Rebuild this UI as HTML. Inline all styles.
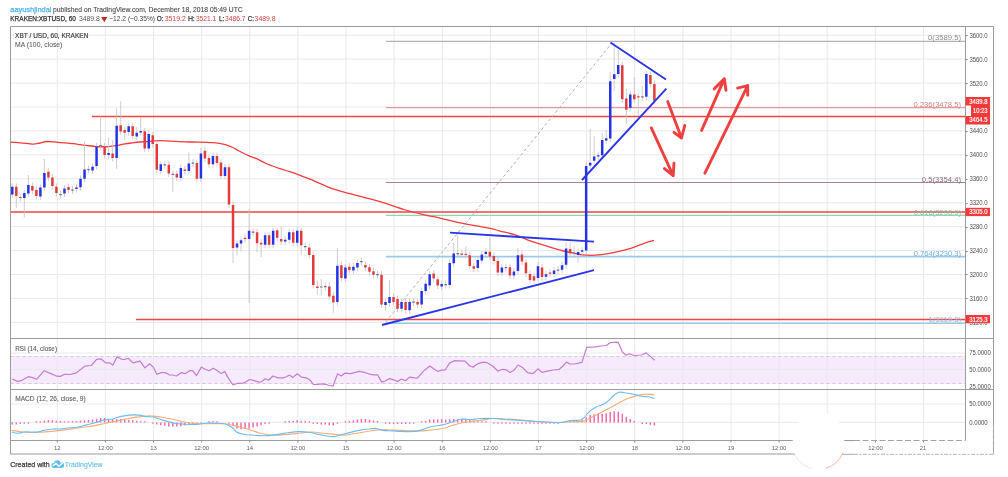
<!DOCTYPE html>
<html><head><meta charset="utf-8"><title>XBTUSD chart</title>
<style>html,body{margin:0;padding:0;background:#fff;}body{width:1008px;height:477px;overflow:hidden;position:relative;}</style>
</head><body>
<svg width="1008" height="477" viewBox="0 0 1008 477" style="position:absolute;left:0;top:0;filter:blur(0.3px)"><defs><clipPath id="cm"><rect x="10.5" y="26.5" width="955.0" height="312.0"/></clipPath><clipPath id="cr"><rect x="10.5" y="338.5" width="955.0" height="51.0"/></clipPath><clipPath id="cd"><rect x="10.5" y="389.5" width="955.0" height="51.0"/></clipPath></defs><rect x="10.5" y="356" width="955.0" height="28" fill="#f5ebfd"/><path d="M57.3 26.5V440.5 M105.4 26.5V440.5 M153.5 26.5V440.5 M201.7 26.5V440.5 M249.8 26.5V440.5 M297.9 26.5V440.5 M346.0 26.5V440.5 M394.1 26.5V440.5 M442.3 26.5V440.5 M490.4 26.5V440.5 M538.5 26.5V440.5 M586.6 26.5V440.5 M634.7 26.5V440.5 M682.9 26.5V440.5 M731.0 26.5V440.5 M779.1 26.5V440.5 M827.2 26.5V440.5 M875.3 26.5V440.5 M923.5 26.5V440.5 M10.5 35.2H965.5 M10.5 59.1H965.5 M10.5 83.1H965.5 M10.5 107.0H965.5 M10.5 130.9H965.5 M10.5 154.8H965.5 M10.5 178.8H965.5 M10.5 202.7H965.5 M10.5 226.6H965.5 M10.5 250.6H965.5 M10.5 274.5H965.5 M10.5 298.4H965.5 M10.5 322.3H965.5 M10.5 353.1H965.5 M10.5 369.5H965.5 M10.5 404H965.5 M10.5 422.3H965.5" stroke="#e9e9e9" stroke-width="1" fill="none"/><path d="M10.5 356.5H965.5M10.5 383.5H965.5" stroke="#d3c8d8" stroke-width="1" stroke-dasharray="3,3" fill="none"/><g clip-path="url(#cm)"><path d="M386 41.3H965.5" stroke="#b4b4b4" stroke-width="1.2"/><path d="M386 107.6H965.5" stroke="#e39a9a" stroke-width="1.2"/><path d="M386 182.5H965.5" stroke="#a67f98" stroke-width="1.2"/><path d="M386 215.4H965.5" stroke="#8fd6b4" stroke-width="1.2"/><path d="M386 256.6H965.5" stroke="#9ccbe8" stroke-width="1.6"/><path d="M386 323.2H965.5" stroke="#9ccbe8" stroke-width="1.6"/><path d="M92 116.4H965.5M10.5 212H965.5M136 319.5H965.5" stroke="#f04545" stroke-width="1.5" fill="none"/><path d="M385.6 322L611.3 43.8" stroke="#b0b0b0" stroke-width="1" stroke-dasharray="3,2.5" fill="none"/><path d="M10.0 142.1C11.8 142.2 16.7 142.5 20.6 142.8C24.5 143.1 30.0 144.1 33.2 144.1C36.4 144.1 37.7 143.4 40.0 143.0C42.3 142.6 44.0 141.6 47.0 141.5C50.0 141.4 53.9 142.0 58.3 142.3C62.7 142.7 69.8 143.2 73.4 143.6C77.0 144.0 77.9 144.4 80.0 144.7C82.1 145.0 83.3 145.0 86.0 145.3C88.7 145.6 92.6 146.4 96.4 146.6C100.2 146.8 105.0 146.8 108.6 146.6C112.1 146.4 115.0 145.8 117.7 145.3C120.4 144.8 122.5 144.2 125.0 143.8C127.5 143.4 129.4 143.2 132.8 142.8C136.2 142.4 140.9 142.0 145.4 141.6C149.9 141.2 153.3 140.6 160.0 140.6C166.7 140.6 179.1 141.6 185.4 141.8C191.7 142.1 193.4 141.9 198.0 142.1C202.6 142.2 209.0 142.4 213.0 142.7C217.0 143.0 219.3 143.3 222.0 143.8C224.7 144.3 226.8 145.0 229.0 145.8C231.2 146.6 233.0 147.6 235.0 148.6C237.0 149.6 238.5 150.7 241.0 152.0C243.5 153.3 247.4 155.2 250.2 156.4C253.0 157.6 254.9 157.9 257.7 159.2C260.5 160.5 262.8 162.2 267.2 164.0C271.6 165.8 279.2 168.3 284.2 170.0C289.2 171.7 293.0 172.7 297.4 174.3C301.8 175.9 304.6 177.0 310.6 179.4C316.6 181.8 326.3 186.4 333.2 188.9C340.1 191.4 344.3 192.1 352.1 194.2C359.9 196.3 371.1 199.1 380.0 201.7C388.9 204.3 397.9 207.8 405.5 210.0C413.1 212.2 419.9 213.8 425.6 215.1C431.4 216.4 433.4 216.6 440.0 218.1C446.6 219.6 456.6 222.1 465.0 223.8C473.4 225.5 484.5 227.2 490.3 228.4C496.1 229.6 495.7 230.0 500.0 231.1C504.3 232.2 510.6 233.4 515.9 235.1C521.2 236.8 526.4 239.5 531.7 241.4C537.0 243.3 542.3 244.8 547.6 246.4C552.9 248.0 559.0 249.8 563.5 251.0C568.0 252.2 571.4 252.7 574.6 253.3C577.8 254.0 579.1 254.6 582.5 254.9C585.9 255.2 591.0 255.4 595.2 255.2C599.5 255.0 602.7 254.7 608.0 253.7C613.3 252.7 621.2 251.1 627.0 249.4C632.8 247.8 638.4 245.3 642.9 243.8C647.4 242.3 652.1 240.9 654.0 240.3" fill="none" stroke="#f03c3c" stroke-width="1.3" stroke-linejoin="round"/><path d="M12.3 183.3V197.9 M16.3 183.3V208.0 M20.3 193.4V201.6 M24.3 189.6V217.5 M28.4 175.0V197.1 M32.4 182.5V194.1 M36.4 186.5V199.5 M40.4 184.1V200.1 M44.4 159.0V191.1 M48.4 168.2V181.0 M52.4 174.0V189.5 M56.4 183.3V196.6 M60.5 190.5V198.5 M64.5 185.1V197.1 M68.5 183.5V193.5 M72.5 186.0V194.0 M76.5 184.1V192.5 M80.5 175.3V190.8 M84.5 141.5V182.3 M88.5 165.5V173.5 M92.6 163.2V174.0 M96.6 143.1V169.5 M100.6 116.4V149.5 M104.6 143.1V158.5 M108.6 137.8V158.5 M112.6 140.3V161.4 M116.6 108.2V169.0 M120.7 101.3V135.0 M124.7 126.5V139.7 M128.7 124.0V135.6 M132.7 122.7V139.4 M136.7 127.0V140.0 M140.7 117.0V136.0 M144.7 127.8V152.0 M148.7 130.5V152.0 M152.8 131.8V147.6 M156.8 140.6V173.2 M160.8 160.7V174.5 M164.8 160.7V168.7 M168.8 161.2V177.0 M172.8 170.2V191.9 M176.8 170.2V181.0 M180.8 164.5V181.5 M184.9 166.0V174.5 M188.9 152.4V174.5 M192.9 159.0V167.0 M196.9 159.5V182.3 M200.9 147.8V182.0 M204.9 147.3V161.9 M208.9 154.4V167.7 M213.0 152.5V167.7 M217.0 152.5V166.5 M221.0 158.9V179.5 M225.0 163.7V179.5 M229.0 163.7V207.9 M233.0 201.5V263.0 M237.0 240.1V255.4 M241.0 236.8V251.6 M245.1 234.3V242.5 M249.1 209.0V303.0 M253.1 228.0V236.3 M257.1 228.8V252.4 M261.1 239.3V257.0 M265.1 231.8V248.3 M269.1 231.8V248.3 M273.1 227.3V248.3 M277.2 227.7V241.3 M281.2 226.5V245.1 M285.2 236.3V245.1 M289.2 228.8V243.3 M293.2 228.8V246.3 M297.2 227.3V246.3 M301.2 227.3V255.4 M305.2 242.5V250.5 M309.3 243.9V258.4 M313.3 251.4V288.6 M317.3 280.6V294.4 M321.3 279.0V295.6 M325.3 282.5V290.5 M329.3 281.8V299.9 M333.3 292.2V313.0 M337.4 247.8V305.5 M341.4 261.7V281.5 M345.4 263.9V282.0 M349.4 263.2V273.5 M353.4 263.2V273.9 M357.4 259.4V270.9 M361.4 257.5V265.5 M365.4 261.4V270.9 M369.5 263.7V275.2 M373.5 267.7V278.2 M377.5 270.5V278.5 M381.5 271.2V307.9 M385.5 298.4V310.7 M389.5 280.0V306.6 M393.5 293.4V305.4 M397.5 295.4V312.2 M401.6 298.4V312.2 M405.6 298.4V313.4 M409.6 298.4V313.7 M413.6 298.0V306.0 M417.6 298.4V307.9 M421.6 287.5V307.9 M425.6 280.3V294.5 M429.7 270.7V289.0 M433.7 270.0V282.0 M437.7 275.7V289.0 M441.7 280.5V290.0 M445.7 280.5V288.5 M449.7 259.4V288.5 M453.7 242.8V266.7 M457.7 235.2V257.5 M461.8 250.0V258.0 M465.8 246.5V258.3 M469.8 251.8V269.4 M473.8 262.7V272.2 M477.8 256.4V271.4 M481.8 251.1V263.9 M485.8 248.3V257.6 M489.8 237.7V260.1 M493.9 252.6V264.6 M497.9 257.6V276.0 M501.9 263.9V276.0 M505.9 263.5V271.5 M509.9 263.7V279.1 M513.9 268.1V279.1 M517.9 247.8V274.6 M522.0 251.1V265.1 M526.0 259.0V276.7 M530.0 270.5V283.5 M534.0 272.8V284.0 M538.0 262.0V281.4 M542.0 264.1V280.6 M546.0 270.8V280.3 M550.0 268.9V277.2 M554.1 267.0V277.5 M558.1 266.0V274.0 M562.1 261.7V273.2 M566.1 242.2V268.3 M570.1 242.2V256.8 M574.1 246.0V258.0 M578.1 248.5V262.9 M582.1 247.0V255.2 M586.2 162.4V254.0 M590.2 128.8V169.0 M594.2 136.3V164.3 M598.2 151.7V159.9 M602.2 133.2V158.7 M606.2 130.0V143.9 M610.2 71.9V142.0 M614.2 43.0V90.8 M618.3 50.0V77.4 M622.3 61.8V102.7 M626.3 88.8V123.8 M630.3 90.9V111.3 M634.3 76.9V102.7 M638.3 92.7V115.5 M642.3 85.9V100.8 M646.4 70.9V100.3 M650.4 71.4V87.4 M654.4 80.4V104.3" stroke="#c2c2c2" stroke-width="0.8" fill="none"/><path d="M11.05 186.8h2.5v7.6h-2.5z M23.09 193.1h2.5v5.0h-2.5z M27.10 185.0h2.5v8.6h-2.5z M39.14 187.6h2.5v9.0h-2.5z M43.15 173.0h2.5v14.6h-2.5z M63.22 188.6h2.5v5.0h-2.5z M75.26 187.6h2.5v1.4h-2.5z M79.27 178.8h2.5v8.5h-2.5z M83.28 169.5h2.5v9.3h-2.5z M91.31 166.7h2.5v3.8h-2.5z M95.32 146.6h2.5v19.4h-2.5z M107.36 152.9h2.5v2.1h-2.5z M115.39 125.8h2.5v32.1h-2.5z M127.43 126.2h2.5v5.9h-2.5z M135.45 132.8h2.5v3.7h-2.5z M139.47 130.9h2.5v1.6h-2.5z M147.49 134.0h2.5v14.5h-2.5z M159.53 164.2h2.5v6.8h-2.5z M179.60 168.0h2.5v10.0h-2.5z M187.62 163.4h2.5v7.6h-2.5z M199.66 153.4h2.5v25.1h-2.5z M211.70 156.0h2.5v8.2h-2.5z M223.74 167.2h2.5v8.8h-2.5z M235.78 243.6h2.5v3.8h-2.5z M239.79 240.3h2.5v3.3h-2.5z M247.82 230.8h2.5v8.2h-2.5z M263.87 235.3h2.5v9.5h-2.5z M271.89 230.8h2.5v14.0h-2.5z M283.93 239.8h2.5v1.8h-2.5z M287.95 232.3h2.5v7.5h-2.5z M295.97 230.8h2.5v12.0h-2.5z M336.10 265.7h2.5v36.3h-2.5z M344.13 267.4h2.5v11.1h-2.5z M352.16 266.7h2.5v3.7h-2.5z M356.17 262.9h2.5v4.5h-2.5z M384.26 301.9h2.5v3.0h-2.5z M388.27 296.9h2.5v6.2h-2.5z M400.31 301.9h2.5v6.8h-2.5z M408.34 301.9h2.5v8.3h-2.5z M420.38 291.0h2.5v13.4h-2.5z M424.39 283.8h2.5v7.2h-2.5z M428.40 274.2h2.5v11.3h-2.5z M440.44 284.0h2.5v2.5h-2.5z M448.47 262.9h2.5v22.1h-2.5z M452.48 253.6h2.5v9.6h-2.5z M476.56 259.9h2.5v8.0h-2.5z M480.57 254.6h2.5v5.8h-2.5z M484.58 251.8h2.5v2.3h-2.5z M500.64 267.4h2.5v5.1h-2.5z M512.67 271.6h2.5v4.0h-2.5z M516.69 255.2h2.5v15.9h-2.5z M536.75 266.3h2.5v11.6h-2.5z M544.78 274.3h2.5v2.5h-2.5z M552.80 270.5h2.5v3.5h-2.5z M560.83 265.2h2.5v4.5h-2.5z M564.84 248.6h2.5v16.2h-2.5z M576.88 252.0h2.5v2.9h-2.5z M580.90 250.2h2.5v1.5h-2.5z M584.91 165.9h2.5v84.6h-2.5z M588.92 162.7h2.5v2.8h-2.5z M592.93 156.4h2.5v4.4h-2.5z M596.95 155.2h2.5v1.2h-2.5z M600.96 140.1h2.5v15.1h-2.5z M604.97 138.2h2.5v2.2h-2.5z M608.99 81.3h2.5v57.2h-2.5z M613.00 74.3h2.5v4.6h-2.5z M617.01 64.9h2.5v9.0h-2.5z M629.05 94.4h2.5v13.4h-2.5z M645.10 73.9h2.5v22.9h-2.5z" fill="#2632e6"/><path d="M15.06 186.8h2.5v9.3h-2.5z M19.08 196.9h2.5v1.2h-2.5z M31.11 186.0h2.5v4.6h-2.5z M35.13 190.0h2.5v6.0h-2.5z M47.17 171.7h2.5v5.8h-2.5z M51.18 177.5h2.5v8.5h-2.5z M55.19 186.8h2.5v6.3h-2.5z M67.23 187.0h2.5v3.0h-2.5z M103.35 146.6h2.5v8.4h-2.5z M111.38 153.4h2.5v4.5h-2.5z M119.40 125.2h2.5v6.3h-2.5z M123.41 130.0h2.5v2.8h-2.5z M131.44 126.2h2.5v9.7h-2.5z M143.48 131.3h2.5v17.2h-2.5z M151.50 135.3h2.5v8.8h-2.5z M155.52 144.1h2.5v25.6h-2.5z M167.56 164.7h2.5v8.8h-2.5z M175.58 173.7h2.5v3.8h-2.5z M183.61 169.5h2.5v1.5h-2.5z M195.65 163.0h2.5v15.8h-2.5z M203.67 150.8h2.5v7.6h-2.5z M207.69 157.9h2.5v6.3h-2.5z M215.71 156.0h2.5v7.0h-2.5z M219.73 162.4h2.5v13.6h-2.5z M227.75 167.2h2.5v37.2h-2.5z M231.77 205.0h2.5v42.9h-2.5z M243.80 237.8h2.5v1.2h-2.5z M251.83 231.5h2.5v1.3h-2.5z M255.84 232.3h2.5v11.0h-2.5z M259.86 242.8h2.5v1.8h-2.5z M267.88 235.3h2.5v9.5h-2.5z M275.91 230.3h2.5v7.5h-2.5z M279.92 239.0h2.5v2.6h-2.5z M291.96 232.3h2.5v10.5h-2.5z M299.99 230.8h2.5v14.5h-2.5z M308.01 247.4h2.5v7.5h-2.5z M312.02 254.9h2.5v30.2h-2.5z M316.04 286.4h2.5v1.7h-2.5z M328.08 286.4h2.5v10.0h-2.5z M332.09 295.7h2.5v6.8h-2.5z M340.12 265.2h2.5v12.8h-2.5z M348.14 266.7h2.5v3.3h-2.5z M364.19 264.9h2.5v2.5h-2.5z M368.21 267.2h2.5v4.5h-2.5z M372.22 271.2h2.5v3.5h-2.5z M380.25 274.7h2.5v29.7h-2.5z M392.29 296.9h2.5v5.0h-2.5z M396.30 298.9h2.5v9.8h-2.5z M404.32 301.9h2.5v8.0h-2.5z M416.36 301.9h2.5v2.5h-2.5z M432.42 273.5h2.5v5.0h-2.5z M436.43 279.2h2.5v6.3h-2.5z M460.51 253.5h2.5v1.2h-2.5z M464.52 253.8h2.5v1.2h-2.5z M468.53 255.3h2.5v10.6h-2.5z M472.55 266.2h2.5v2.5h-2.5z M488.60 251.8h2.5v4.8h-2.5z M492.61 256.1h2.5v5.0h-2.5z M496.62 261.1h2.5v11.4h-2.5z M508.66 267.2h2.5v8.4h-2.5z M520.70 254.6h2.5v7.0h-2.5z M524.71 262.5h2.5v10.7h-2.5z M528.73 274.0h2.5v6.0h-2.5z M532.74 276.3h2.5v4.2h-2.5z M540.77 267.6h2.5v9.5h-2.5z M548.79 272.4h2.5v1.3h-2.5z M568.86 249.0h2.5v4.3h-2.5z M621.03 65.3h2.5v33.9h-2.5z M625.04 98.4h2.5v11.4h-2.5z M633.06 94.4h2.5v4.8h-2.5z M637.08 96.2h2.5v1.2h-2.5z M649.12 74.9h2.5v9.0h-2.5z M653.13 83.9h2.5v16.9h-2.5z" fill="#e23b3b"/><path d="M59.21 194.0h2.5v1.2h-2.5z M71.25 189.5h2.5v1.2h-2.5z M87.30 169.0h2.5v1.2h-2.5z M99.34 145.0h2.5v1.2h-2.5z M163.54 164.2h2.5v1.2h-2.5z M171.57 173.7h2.5v1.2h-2.5z M191.64 162.5h2.5v1.2h-2.5z M304.00 246.0h2.5v1.2h-2.5z M320.05 286.4h2.5v1.2h-2.5z M324.06 286.0h2.5v1.2h-2.5z M360.18 261.0h2.5v1.2h-2.5z M376.23 274.0h2.5v1.2h-2.5z M412.35 301.5h2.5v1.2h-2.5z M444.45 284.0h2.5v1.2h-2.5z M456.49 253.0h2.5v1.2h-2.5z M504.65 267.0h2.5v1.2h-2.5z M556.82 269.5h2.5v1.2h-2.5z M572.87 252.5h2.5v1.2h-2.5z M641.09 96.3h2.5v1.2h-2.5z" fill="#6a6a9a"/><path d="M382 325L594 270.2M450 232.7L594 241.7M582 180L666.4 88.6M610.4 42.4L666 79.5" stroke="#2a35e8" stroke-width="1.85" fill="none" stroke-linecap="butt"/><text x="928.1" y="40.4" textLength="32.9" lengthAdjust="spacingAndGlyphs" font-family="'Liberation Sans', Arial, sans-serif" font-size="7.5" fill="#8a8a8a">0(3589.5)</text><text x="913.5" y="106.7" textLength="47.5" lengthAdjust="spacingAndGlyphs" font-family="'Liberation Sans', Arial, sans-serif" font-size="7.5" fill="#d97f7f">0.236(3478.5)</text><text x="921.8" y="181.6" textLength="39.2" lengthAdjust="spacingAndGlyphs" font-family="'Liberation Sans', Arial, sans-serif" font-size="7.5" fill="#8c6a82">0.5(3354.4)</text><text x="913.7" y="214.5" textLength="47.3" lengthAdjust="spacingAndGlyphs" font-family="'Liberation Sans', Arial, sans-serif" font-size="7.5" fill="#74c9a2">0.618(3298.9)</text><text x="913.7" y="255.7" textLength="47.3" lengthAdjust="spacingAndGlyphs" font-family="'Liberation Sans', Arial, sans-serif" font-size="7.5" fill="#6cb2de">0.764(3230.3)</text><text x="928.6" y="322.3" textLength="32.4" lengthAdjust="spacingAndGlyphs" font-family="'Liberation Sans', Arial, sans-serif" font-size="7.5" fill="#86bde2">1(3119.3)</text></g><path d="M667.7 101.5L681.5 138M674 132.4L681.5 138L684.8 125.4 M651.3 127.9L673.2 175.7M664.4 168.6L673.2 175.7L674 163.1 M701.6 130.4L724.3 78.8M714.2 88.9L724.3 78.8L726 90.2 M704.9 173.2L747.7 85.6M737.6 88.1L747.7 85.6L747.7 95.2" stroke="#ef4040" stroke-width="2.9" fill="none" stroke-linecap="round" stroke-linejoin="round"/><g clip-path="url(#cr)"><polyline points="12.3,379.0 17.5,381.4 21.1,380.7 28.2,376.7 31.8,377.4 36.6,379.3 44.2,370.7 50.9,373.6 56.8,376.2 60.4,376.4 64.7,374.3 69.9,374.5 75.9,373.1 84.7,366.2 91.3,365.5 96.6,359.3 100.9,358.8 105.6,362.9 109.9,362.9 112.8,365.2 117.0,356.9 121.8,359.3 124.7,359.5 128.2,358.3 133.0,362.9 137.8,361.7 140.1,361.2 144.9,367.9 149.7,363.8 153.2,367.1 156.8,374.3 161.6,372.6 165.1,372.6 169.4,374.8 172.3,375.0 176.6,376.0 181.3,372.6 185.4,373.6 190.1,370.5 192.5,370.7 196.6,375.5 201.3,367.1 205.6,369.5 209.2,370.7 213.2,368.3 217.5,370.7 221.1,373.6 224.7,371.4 228.2,377.9 233.0,385.0 237.8,383.3 242.5,383.1 244.8,382.6 249.5,379.5 254.3,380.7 259.0,382.1 261.4,381.9 265.0,378.8 268.6,380.2 272.9,376.0 278.1,377.9 282.9,377.9 286.4,376.7 289.5,375.0 292.9,377.4 297.1,373.8 301.4,377.1 306.7,377.9 310.2,380.2 313.3,384.3 317.4,384.5 322.1,383.8 325.7,384.3 329.3,385.5 332.9,386.2 337.6,373.8 341.2,376.0 345.2,373.1 350.7,373.6 354.3,372.6 359.0,371.4 362.6,371.9 368.6,373.8 373.3,374.8 377.6,374.8 381.7,382.1 385.2,381.0 389.5,378.6 393.6,379.8 397.6,381.4 401.4,379.0 405.5,380.7 409.5,377.1 415.0,377.9 417.4,378.1 423.3,371.4 429.8,366.0 434.0,369.0 438.1,371.4 441.2,370.2 445.2,370.0 449.5,363.1 454.3,360.7 465.0,361.2 469.8,366.0 473.8,367.1 472.9,367.1 478.3,363.6 483.1,362.1 486.7,362.6 492.6,366.0 498.1,371.2 502.1,369.3 506.2,369.8 510.0,372.6 514.0,370.2 518.1,365.0 522.4,367.4 527.6,372.6 533.1,373.6 537.9,368.8 541.9,372.4 547.4,371.2 553.3,370.0 559.3,369.3 562.9,366.0 566.4,362.1 570.0,364.0 574.8,364.0 581.9,362.4 586.7,347.4 595.0,346.9 601.0,346.0 606.2,345.5 610.5,342.6 618.1,342.1 622.4,352.1 626.0,355.2 629.5,353.8 633.8,355.5 641.4,355.0 646.2,352.9 651.0,356.9 654.5,360.2" fill="none" stroke="#c77ad6" stroke-width="1.2" stroke-linejoin="round"/></g><g clip-path="url(#cd)"><path d="M12.3 422.5v1.9 M16.3 422.5v1.9 M20.3 422.5v1.6 M24.3 422.5v1.3 M28.4 422.5v1.3 M36.4 422.5v-1.3 M40.4 422.5v-1.3 M44.4 422.5v-2.0 M48.4 422.5v-2.4 M52.4 422.5v-2.3 M56.4 422.5v-1.7 M60.5 422.5v-1.6 M64.5 422.5v-1.3 M68.5 422.5v-1.3 M72.5 422.5v-1.6 M76.5 422.5v-1.6 M80.5 422.5v-1.9 M84.5 422.5v-2.2 M88.5 422.5v-2.5 M92.6 422.5v-3.1 M96.6 422.5v-3.8 M100.6 422.5v-4.4 M104.6 422.5v-4.4 M108.6 422.5v-3.8 M112.6 422.5v-3.5 M116.6 422.5v-3.2 M120.7 422.5v-3.5 M124.7 422.5v-3.2 M128.7 422.5v-2.7 M132.7 422.5v-2.3 M136.7 422.5v-1.7 M140.7 422.5v-1.3 M144.7 422.5v-1.3 M152.8 422.5v1.3 M156.8 422.5v2.1 M160.8 422.5v2.8 M164.8 422.5v3.2 M168.8 422.5v3.9 M172.8 422.5v4.1 M176.8 422.5v4.1 M180.8 422.5v3.8 M184.9 422.5v3.0 M188.9 422.5v2.2 M192.9 422.5v1.7 M196.9 422.5v1.3 M200.9 422.5v1.3 M208.9 422.5v-1.3 M213.0 422.5v-1.3 M217.0 422.5v-1.3 M229.0 422.5v1.3 M233.0 422.5v2.9 M237.0 422.5v6.0 M241.0 422.5v6.8 M245.1 422.5v6.5 M249.1 422.5v6.0 M253.1 422.5v5.0 M257.1 422.5v3.9 M261.1 422.5v2.7 M265.1 422.5v1.4 M269.1 422.5v1.3 M285.2 422.5v-1.3 M289.2 422.5v-1.6 M293.2 422.5v-1.6 M297.2 422.5v-2.2 M301.2 422.5v-1.6 M305.2 422.5v-1.6 M309.3 422.5v-1.3 M313.3 422.5v1.3 M317.3 422.5v1.6 M321.3 422.5v2.1 M325.3 422.5v2.1 M329.3 422.5v2.8 M333.3 422.5v2.9 M337.4 422.5v1.3 M345.4 422.5v-1.3 M349.4 422.5v-1.6 M353.4 422.5v-2.2 M357.4 422.5v-2.9 M361.4 422.5v-3.5 M365.4 422.5v-3.5 M369.5 422.5v-2.7 M373.5 422.5v-2.0 M377.5 422.5v-1.4 M385.5 422.5v1.3 M389.5 422.5v1.6 M393.5 422.5v1.6 M397.5 422.5v1.6 M401.6 422.5v1.6 M405.6 422.5v1.6 M409.6 422.5v1.3 M413.6 422.5v1.3 M421.6 422.5v-1.3 M425.6 422.5v-1.6 M429.7 422.5v-2.9 M433.7 422.5v-3.2 M437.7 422.5v-3.2 M441.7 422.5v-3.2 M445.7 422.5v-2.9 M449.7 422.5v-3.2 M453.7 422.5v-3.5 M457.7 422.5v-3.5 M461.8 422.5v-3.5 M465.8 422.5v-3.2 M469.8 422.5v-2.9 M473.8 422.5v-2.0 M477.8 422.5v-1.3 M481.8 422.5v-1.3 M485.8 422.5v-1.3 M493.9 422.5v1.3 M497.9 422.5v1.3 M501.9 422.5v1.3 M505.9 422.5v1.3 M509.9 422.5v1.3 M513.9 422.5v1.3 M517.9 422.5v1.3 M522.0 422.5v1.3 M526.0 422.5v1.3 M530.0 422.5v1.3 M534.0 422.5v1.3 M538.0 422.5v1.3 M542.0 422.5v1.3 M546.0 422.5v1.3 M550.0 422.5v1.3 M554.1 422.5v1.3 M558.1 422.5v1.3 M566.1 422.5v-1.3 M570.1 422.5v-1.3 M574.1 422.5v-1.3 M578.1 422.5v-1.3 M582.1 422.5v-2.4 M586.2 422.5v-4.9 M590.2 422.5v-7.4 M594.2 422.5v-8.3 M598.2 422.5v-9.0 M602.2 422.5v-8.8 M606.2 422.5v-9.3 M610.2 422.5v-10.4 M614.2 422.5v-11.2 M618.3 422.5v-10.8 M622.3 422.5v-8.7 M626.3 422.5v-5.5 M630.3 422.5v-3.6 M634.3 422.5v-1.6 M642.3 422.5v1.4 M646.4 422.5v1.6 M650.4 422.5v2.2 M654.4 422.5v3.1" stroke="#f36aab" stroke-width="1.5" fill="none"/><path d="M11.6 430.4C13.0 430.6 16.5 431.2 19.9 431.6C23.3 431.9 28.6 432.4 31.8 432.5C35.0 432.6 36.2 432.4 39.0 432.3C41.7 432.1 44.9 431.9 48.5 431.6C52.0 431.3 56.0 430.9 60.4 430.4C64.7 429.9 70.3 429.1 74.7 428.5C79.0 427.9 83.0 427.3 86.6 426.8C90.1 426.3 92.9 426.0 96.1 425.4C99.3 424.8 102.0 424.0 105.6 423.2C109.2 422.5 113.6 421.7 117.5 420.9C121.5 420.0 125.5 419.0 129.4 418.2C133.4 417.5 137.8 417.0 141.3 416.6C144.9 416.2 147.7 415.8 150.9 415.9C154.0 415.9 156.4 416.4 160.4 417.0C164.3 417.7 170.3 418.8 174.7 419.7C179.0 420.6 182.6 421.8 186.6 422.5C190.5 423.2 194.5 423.5 198.5 423.7C202.4 423.9 206.0 423.7 210.4 423.7C214.7 423.7 220.7 423.4 224.7 423.7C228.6 424.0 231.0 424.9 234.2 425.6C237.4 426.3 241.2 427.3 243.7 428.0C246.3 428.7 247.0 428.9 249.5 429.7C252.1 430.5 255.9 431.9 259.0 432.8C262.2 433.6 265.4 434.5 268.6 434.9C271.7 435.3 274.9 435.2 278.1 435.1C281.3 435.1 284.0 434.7 287.6 434.4C291.2 434.1 295.6 433.6 299.5 433.2C303.5 432.8 307.5 432.0 311.4 432.0C315.4 432.0 319.4 432.8 323.3 433.2C327.3 433.6 331.7 434.1 335.2 434.4C338.8 434.7 341.2 435.3 344.8 435.1C348.3 434.9 352.7 433.9 356.7 433.2C360.6 432.6 365.4 431.8 368.6 431.3C371.7 430.8 372.5 430.4 375.7 430.1C378.9 429.9 383.3 429.6 387.6 429.7C392.0 429.7 397.1 430.2 401.9 430.4C406.7 430.6 411.8 430.9 416.2 430.9C420.6 430.9 423.7 430.8 428.1 430.4C432.5 430.0 438.0 429.4 442.4 428.5C446.7 427.6 450.7 425.9 454.3 424.9C457.9 423.9 461.2 423.0 463.8 422.5C466.4 422.0 467.0 422.2 470.0 421.8C473.0 421.4 477.9 420.7 481.9 420.1C485.9 419.6 489.8 418.7 493.8 418.5C497.8 418.3 501.7 418.8 505.7 419.0C509.7 419.2 513.3 419.3 517.6 419.7C522.0 420.0 527.1 420.5 531.9 420.9C536.7 421.3 541.4 421.8 546.2 422.0C551.0 422.3 556.1 422.6 560.5 422.5C564.8 422.5 568.4 422.1 572.4 421.8C576.3 421.5 580.7 421.8 584.3 420.9C587.9 419.9 590.6 417.7 593.8 416.1C597.0 414.5 600.2 413.0 603.3 411.3C606.5 409.7 610.5 407.6 612.9 406.3C615.2 405.0 615.2 404.7 617.6 403.5C620.0 402.2 624.0 400.0 627.1 398.7C630.3 397.4 633.9 396.3 636.7 395.6C639.4 394.9 641.4 394.6 643.8 394.4C646.2 394.2 649.2 394.3 651.0 394.4C652.7 394.5 653.9 395.0 654.5 395.1" fill="none" stroke="#f9ae78" stroke-width="1.15" stroke-linejoin="round"/><path d="M11.6 432.0C12.6 432.2 15.3 433.2 17.5 433.2C19.7 433.2 22.3 432.2 24.7 432.0C27.0 431.8 29.6 432.0 31.8 432.0C34.0 432.0 35.8 432.3 37.8 432.0C39.7 431.8 41.3 430.9 43.7 430.4C46.1 429.9 49.3 429.2 52.0 429.0C54.8 428.7 57.8 429.1 60.4 429.0C63.0 428.8 64.7 428.3 67.5 428.0C70.3 427.7 73.9 427.8 77.0 427.3C80.2 426.8 83.4 425.7 86.6 424.9C89.7 424.1 93.3 423.3 96.1 422.5C98.9 421.7 100.5 420.7 103.2 420.1C106.0 419.5 110.0 419.5 112.8 419.0C115.5 418.4 117.1 417.2 119.9 416.6C122.7 415.9 126.3 415.4 129.4 415.1C132.6 414.9 136.2 414.9 139.0 415.1C141.7 415.4 143.7 416.3 146.1 416.6C148.5 416.9 150.5 416.5 153.2 417.0C156.0 417.6 159.2 419.1 162.8 420.1C166.3 421.2 171.1 422.6 174.7 423.2C178.2 423.9 180.6 424.0 184.2 424.2C187.8 424.4 192.5 424.6 196.1 424.4C199.7 424.3 202.4 423.4 205.6 423.2C208.8 423.0 212.0 423.2 215.1 423.2C218.3 423.3 221.9 423.0 224.7 423.7C227.4 424.4 229.8 425.9 231.8 427.3C233.8 428.7 234.8 430.9 236.6 432.0C238.4 433.2 240.8 433.5 242.5 434.0C244.3 434.4 244.4 434.4 247.1 434.7C249.9 434.9 255.5 435.5 259.0 435.6C262.6 435.8 265.4 435.8 268.6 435.6C271.7 435.4 274.9 434.9 278.1 434.4C281.3 434.0 284.0 433.2 287.6 432.8C291.2 432.3 296.0 431.7 299.5 431.6C303.1 431.5 305.9 431.8 309.0 432.3C312.2 432.8 314.6 433.7 318.6 434.4C322.5 435.1 328.5 436.7 332.9 436.6C337.2 436.5 340.4 434.7 344.8 433.7C349.1 432.7 355.1 431.2 359.0 430.4C363.0 429.6 365.6 429.3 368.6 429.0C371.5 428.6 374.5 428.2 376.9 428.5C379.3 428.7 380.3 430.0 382.9 430.4C385.4 430.8 388.4 430.7 392.4 430.9C396.3 431.1 402.3 431.6 406.7 431.6C411.0 431.6 414.6 431.7 418.6 430.9C422.5 430.1 426.5 427.8 430.5 426.8C434.4 425.8 438.8 425.7 442.4 424.9C446.0 424.1 448.7 423.0 451.9 422.0C455.1 421.1 458.3 419.3 461.4 419.0C464.6 418.6 467.9 419.7 471.0 419.7C474.0 419.6 475.7 418.7 479.5 418.5C483.3 418.3 489.4 418.3 493.8 418.5C498.2 418.7 501.7 419.4 505.7 419.7C509.7 419.9 513.3 419.9 517.6 420.1C522.0 420.4 527.1 421.0 531.9 421.3C536.7 421.7 541.4 421.8 546.2 422.0C551.0 422.2 556.5 422.8 560.5 422.5C564.4 422.3 566.4 421.1 570.0 420.6C573.6 420.1 578.7 420.9 581.9 419.4C585.1 418.0 586.7 413.9 589.0 411.8C591.4 409.7 593.4 408.5 596.2 407.0C599.0 405.6 602.9 404.8 605.7 403.0C608.5 401.2 610.7 398.1 612.9 396.3C615.0 394.5 616.8 392.9 618.8 392.3C620.8 391.7 622.2 392.4 624.8 392.8C627.3 393.1 631.5 393.8 634.3 394.4C637.1 395.0 639.0 395.9 641.4 396.3C643.8 396.7 646.4 396.5 648.6 396.8C650.8 397.2 653.5 398.2 654.5 398.5" fill="none" stroke="#6cbef2" stroke-width="1.15" stroke-linejoin="round"/></g><path d="M10.5 26.5H993.5V454H10.5Z M965.5 26.5V440.5 M10.5 338.5H993.5 M10.5 389.5H993.5 M10.5 440.5H965.5" stroke="#9c9c9c" stroke-width="1" fill="none"/><path d="M965.5 35.5h2" stroke="#888" stroke-width="1"/><path d="M965.5 59.5h2" stroke="#888" stroke-width="1"/><path d="M965.5 83.5h2" stroke="#888" stroke-width="1"/><path d="M965.5 131.5h2" stroke="#888" stroke-width="1"/><path d="M965.5 155.5h2" stroke="#888" stroke-width="1"/><path d="M965.5 179.5h2" stroke="#888" stroke-width="1"/><path d="M965.5 203.5h2" stroke="#888" stroke-width="1"/><path d="M965.5 227.5h2" stroke="#888" stroke-width="1"/><path d="M965.5 251.5h2" stroke="#888" stroke-width="1"/><path d="M965.5 274.5h2" stroke="#888" stroke-width="1"/><path d="M965.5 298.5h2" stroke="#888" stroke-width="1"/><path d="M965.5 322.5h2" stroke="#888" stroke-width="1"/><g font-family="'Liberation Sans', Arial, sans-serif" font-size="6.8" fill="#505050"><text x="969.4" y="37.6" textLength="18.3" lengthAdjust="spacingAndGlyphs">3600.0</text><text x="969.4" y="61.5" textLength="18.3" lengthAdjust="spacingAndGlyphs">3560.0</text><text x="969.4" y="85.5" textLength="18.3" lengthAdjust="spacingAndGlyphs">3520.0</text><text x="969.4" y="133.3" textLength="18.3" lengthAdjust="spacingAndGlyphs">3440.0</text><text x="969.4" y="157.2" textLength="18.3" lengthAdjust="spacingAndGlyphs">3400.0</text><text x="969.4" y="181.2" textLength="18.3" lengthAdjust="spacingAndGlyphs">3360.0</text><text x="969.4" y="205.1" textLength="18.3" lengthAdjust="spacingAndGlyphs">3320.0</text><text x="969.4" y="229.0" textLength="18.3" lengthAdjust="spacingAndGlyphs">3280.0</text><text x="969.4" y="253.0" textLength="18.3" lengthAdjust="spacingAndGlyphs">3240.0</text><text x="969.4" y="276.9" textLength="18.3" lengthAdjust="spacingAndGlyphs">3200.0</text><text x="969.4" y="300.8" textLength="18.3" lengthAdjust="spacingAndGlyphs">3160.0</text><text x="969.4" y="324.7" textLength="18.3" lengthAdjust="spacingAndGlyphs">3120.0</text><text x="969.3" y="355.4" textLength="21.4" lengthAdjust="spacingAndGlyphs">75.0000</text><text x="969.3" y="372.4" textLength="21.4" lengthAdjust="spacingAndGlyphs">50.0000</text><text x="969.3" y="389.4" textLength="21.4" lengthAdjust="spacingAndGlyphs">25.0000</text><text x="969.3" y="406.3" textLength="21.4" lengthAdjust="spacingAndGlyphs">50.0000</text><text x="969.3" y="424.5" textLength="18.4" lengthAdjust="spacingAndGlyphs">0.0000</text></g><path d="M965.5 97h24.5v27.5h-24.5v-8.5h5.5v-10.5h-5.5z" fill="#f23a3a"/><rect x="965.5" y="207.8" width="24.5" height="8.3" fill="#f23a3a"/><rect x="965.5" y="315" width="24.5" height="8.2" fill="#f23a3a"/><g font-family="'Liberation Sans', Arial, sans-serif" font-size="6.8" fill="#fff" stroke="#fff" stroke-width="0.15"><text x="969.3" y="103.7" textLength="18.2" lengthAdjust="spacingAndGlyphs">3489.8</text><text x="973" y="112.9" textLength="14.5" lengthAdjust="spacingAndGlyphs">10:23</text><text x="969.3" y="122.2" textLength="18.2" lengthAdjust="spacingAndGlyphs">3464.5</text><text x="969.3" y="214.4" textLength="18.2" lengthAdjust="spacingAndGlyphs">3305.0</text><text x="969.3" y="321.5" textLength="18.2" lengthAdjust="spacingAndGlyphs">3125.3</text></g><path d="M57.3 440.5v2" stroke="#888" stroke-width="1"/><path d="M105.4 440.5v2" stroke="#888" stroke-width="1"/><path d="M153.5 440.5v2" stroke="#888" stroke-width="1"/><path d="M201.7 440.5v2" stroke="#888" stroke-width="1"/><path d="M249.8 440.5v2" stroke="#888" stroke-width="1"/><path d="M297.9 440.5v2" stroke="#888" stroke-width="1"/><path d="M346.0 440.5v2" stroke="#888" stroke-width="1"/><path d="M394.1 440.5v2" stroke="#888" stroke-width="1"/><path d="M442.3 440.5v2" stroke="#888" stroke-width="1"/><path d="M490.4 440.5v2" stroke="#888" stroke-width="1"/><path d="M538.5 440.5v2" stroke="#888" stroke-width="1"/><path d="M586.6 440.5v2" stroke="#888" stroke-width="1"/><path d="M634.7 440.5v2" stroke="#888" stroke-width="1"/><path d="M682.9 440.5v2" stroke="#888" stroke-width="1"/><path d="M731.0 440.5v2" stroke="#888" stroke-width="1"/><path d="M779.1 440.5v2" stroke="#888" stroke-width="1"/><path d="M827.2 440.5v2" stroke="#888" stroke-width="1"/><path d="M875.3 440.5v2" stroke="#888" stroke-width="1"/><path d="M923.5 440.5v2" stroke="#888" stroke-width="1"/><g font-family="'Liberation Sans', Arial, sans-serif" font-size="6.2" fill="#666"><text x="54.0" y="449.9" textLength="6.6" lengthAdjust="spacingAndGlyphs">12</text><text x="98.1" y="449.9" textLength="14.7" lengthAdjust="spacingAndGlyphs">12:00</text><text x="150.2" y="449.9" textLength="6.6" lengthAdjust="spacingAndGlyphs">13</text><text x="194.3" y="449.9" textLength="14.7" lengthAdjust="spacingAndGlyphs">12:00</text><text x="246.5" y="449.9" textLength="6.6" lengthAdjust="spacingAndGlyphs">14</text><text x="290.5" y="449.9" textLength="14.7" lengthAdjust="spacingAndGlyphs">12:00</text><text x="342.7" y="449.9" textLength="6.6" lengthAdjust="spacingAndGlyphs">15</text><text x="386.8" y="449.9" textLength="14.7" lengthAdjust="spacingAndGlyphs">12:00</text><text x="439.0" y="449.9" textLength="6.6" lengthAdjust="spacingAndGlyphs">16</text><text x="483.0" y="449.9" textLength="14.7" lengthAdjust="spacingAndGlyphs">12:00</text><text x="535.2" y="449.9" textLength="6.6" lengthAdjust="spacingAndGlyphs">17</text><text x="579.3" y="449.9" textLength="14.7" lengthAdjust="spacingAndGlyphs">12:00</text><text x="631.4" y="449.9" textLength="6.6" lengthAdjust="spacingAndGlyphs">18</text><text x="675.5" y="449.9" textLength="14.7" lengthAdjust="spacingAndGlyphs">12:00</text><text x="727.7" y="449.9" textLength="6.6" lengthAdjust="spacingAndGlyphs">19</text><text x="771.7" y="449.9" textLength="14.7" lengthAdjust="spacingAndGlyphs">12:00</text><text x="823.9" y="449.9" textLength="6.6" lengthAdjust="spacingAndGlyphs">20</text><text x="868.0" y="449.9" textLength="14.7" lengthAdjust="spacingAndGlyphs">12:00</text><text x="920.2" y="449.9" textLength="6.6" lengthAdjust="spacingAndGlyphs">21</text></g><text x="15.1" y="38.4" textLength="73.3" lengthAdjust="spacingAndGlyphs" font-family="'Liberation Sans', Arial, sans-serif" font-size="7.3" font-weight="normal" fill="#444" stroke="#444" stroke-width="0.2">XBT / USD, 60, KRAKEN</text><text x="15.1" y="47.3" textLength="47.3" lengthAdjust="spacingAndGlyphs" font-family="'Liberation Sans', Arial, sans-serif" font-size="7.4" font-weight="normal" fill="#5a5a5a" stroke="#5a5a5a" stroke-width="0.05">MA (100, close)</text><text x="15.2" y="350.6" textLength="41.8" lengthAdjust="spacingAndGlyphs" font-family="'Liberation Sans', Arial, sans-serif" font-size="7.3" font-weight="normal" fill="#5a5a5a" stroke="#5a5a5a" stroke-width="0.1">RSI (14, close)</text><text x="15.2" y="401.4" textLength="70.5" lengthAdjust="spacingAndGlyphs" font-family="'Liberation Sans', Arial, sans-serif" font-size="7.3" font-weight="normal" fill="#5a5a5a" stroke="#5a5a5a" stroke-width="0.1">MACD (12, 26, close, 9)</text><rect x="843" y="425" width="150" height="30.5" fill="#fff"/><path d="M843 440.5H854" stroke="#999" stroke-width="1"/><path d="M854 440.5H965.5" stroke="#a4a4a4" stroke-width="1" stroke-dasharray="6,2.5"/><path d="M843 454.3H854" stroke="#aaa" stroke-width="1"/><path d="M854 454.3H993.5" stroke="#b4b4b4" stroke-width="1" stroke-dasharray="4,1.5,2,1.5"/><path d="M993.5 426V454.3" stroke="#aaa" stroke-width="1" stroke-dasharray="4,2"/><path d="M965.5 425V440.5" stroke="#999" stroke-width="1"/><path d="M875.5 425V440.5M923.5 425V440.5" stroke="#ececec" stroke-width="1"/><path d="M875.5 440.5v2M923.5 440.5v2" stroke="#888" stroke-width="1"/><g font-family="'Liberation Sans', Arial, sans-serif" font-size="6.2" fill="#666"><text x="868.2" y="449.9" textLength="14.7" lengthAdjust="spacingAndGlyphs">12:00</text><text x="919.8" y="449.9" textLength="6.6" lengthAdjust="spacingAndGlyphs">21</text></g><circle cx="818.5" cy="443.2" r="26" fill="#fff"/><rect x="798.8" y="414" width="40.2" height="30" rx="6" fill="#fff"/><path d="M842.6 453.5A26 26 0 0 1 826 468.1" stroke="#f05040" stroke-opacity="0.7" stroke-width="0.6" fill="none"/><path d="M795 455A26 26 0 0 0 812 468.5" stroke="#f05040" stroke-opacity="0.35" stroke-width="0.5" fill="none"/><text x="10.3" y="12.3" textLength="41.1" lengthAdjust="spacingAndGlyphs" font-family="'Liberation Sans', Arial, sans-serif" font-size="7.6" font-weight="normal" fill="#4fb2ea" stroke="#4fb2ea" stroke-width="0.25">aayushjindal</text><text x="53" y="12.3" textLength="189.7" lengthAdjust="spacingAndGlyphs" font-family="'Liberation Sans', Arial, sans-serif" font-size="7.6" font-weight="normal" fill="#444" stroke="#444" stroke-width="0.1">published on TradingView.com, December 18, 2018 05:49 UTC</text><text x="10.3" y="21.1" textLength="65.6" lengthAdjust="spacingAndGlyphs" font-family="'Liberation Sans', Arial, sans-serif" font-size="7.4" font-weight="normal" fill="#303030" stroke="#303030" stroke-width="0.25">KRAKEN:XBTUSD, 60</text><text x="78.9" y="21.1" textLength="20.9" lengthAdjust="spacingAndGlyphs" font-family="'Liberation Sans', Arial, sans-serif" font-size="7.4" font-weight="normal" fill="#555">3489.8</text><path d="M101.2 16.9h6.2l-3.1 5.3z" fill="#c62828"/><text x="109.2" y="21.1" textLength="45.9" lengthAdjust="spacingAndGlyphs" font-family="'Liberation Sans', Arial, sans-serif" font-size="7.4" font-weight="normal" fill="#444">−12.2 (−0.35%)</text><text x="156.8" y="21.1" textLength="6.8" lengthAdjust="spacingAndGlyphs" font-family="'Liberation Sans', Arial, sans-serif" font-size="7.4" font-weight="normal" fill="#303030" stroke="#303030" stroke-width="0.25">O:</text><text x="164.7" y="21.1" textLength="21.1" lengthAdjust="spacingAndGlyphs" font-family="'Liberation Sans', Arial, sans-serif" font-size="7.2" font-weight="normal" fill="#cc3f3f">3519.2</text><text x="187.9" y="21.1" textLength="6.9" lengthAdjust="spacingAndGlyphs" font-family="'Liberation Sans', Arial, sans-serif" font-size="7.4" font-weight="normal" fill="#303030" stroke="#303030" stroke-width="0.25">H:</text><text x="195.9" y="21.1" textLength="20.4" lengthAdjust="spacingAndGlyphs" font-family="'Liberation Sans', Arial, sans-serif" font-size="7.2" font-weight="normal" fill="#cc3f3f">3521.1</text><text x="219.1" y="21.1" textLength="5.3" lengthAdjust="spacingAndGlyphs" font-family="'Liberation Sans', Arial, sans-serif" font-size="7.4" font-weight="normal" fill="#303030" stroke="#303030" stroke-width="0.25">L:</text><text x="225" y="21.1" textLength="20.6" lengthAdjust="spacingAndGlyphs" font-family="'Liberation Sans', Arial, sans-serif" font-size="7.2" font-weight="normal" fill="#cc3f3f">3486.7</text><text x="247.8" y="21.1" textLength="6.2" lengthAdjust="spacingAndGlyphs" font-family="'Liberation Sans', Arial, sans-serif" font-size="7.4" font-weight="normal" fill="#303030" stroke="#303030" stroke-width="0.25">C:</text><text x="254.6" y="21.1" textLength="21.0" lengthAdjust="spacingAndGlyphs" font-family="'Liberation Sans', Arial, sans-serif" font-size="7.2" font-weight="normal" fill="#cc3f3f">3489.8</text><text x="10.2" y="467" textLength="39.5" lengthAdjust="spacingAndGlyphs" font-family="'Liberation Sans', Arial, sans-serif" font-size="7.6" font-weight="normal" fill="#3a3a3a" stroke="#3a3a3a" stroke-width="0.25">Created with</text><g fill="#62bde9"><circle cx="53.7" cy="465.5" r="2.4"/><circle cx="57.2" cy="463.3" r="3.1"/><circle cx="61.4" cy="465.2" r="2.7"/><rect x="53.7" y="464" width="7.7" height="3.9"/></g><path d="M52.6 466L55.9 463.2L58.9 466.4L62.6 463" stroke="#fff" stroke-width="1.2" fill="none" stroke-linejoin="round"/><text x="64.8" y="467" textLength="37.6" lengthAdjust="spacingAndGlyphs" font-family="'Liberation Sans', Arial, sans-serif" font-size="7.6" font-weight="normal" fill="#5dbbe8" stroke="#5dbbe8" stroke-width="0.1">TradingView</text></svg>
</body></html>
